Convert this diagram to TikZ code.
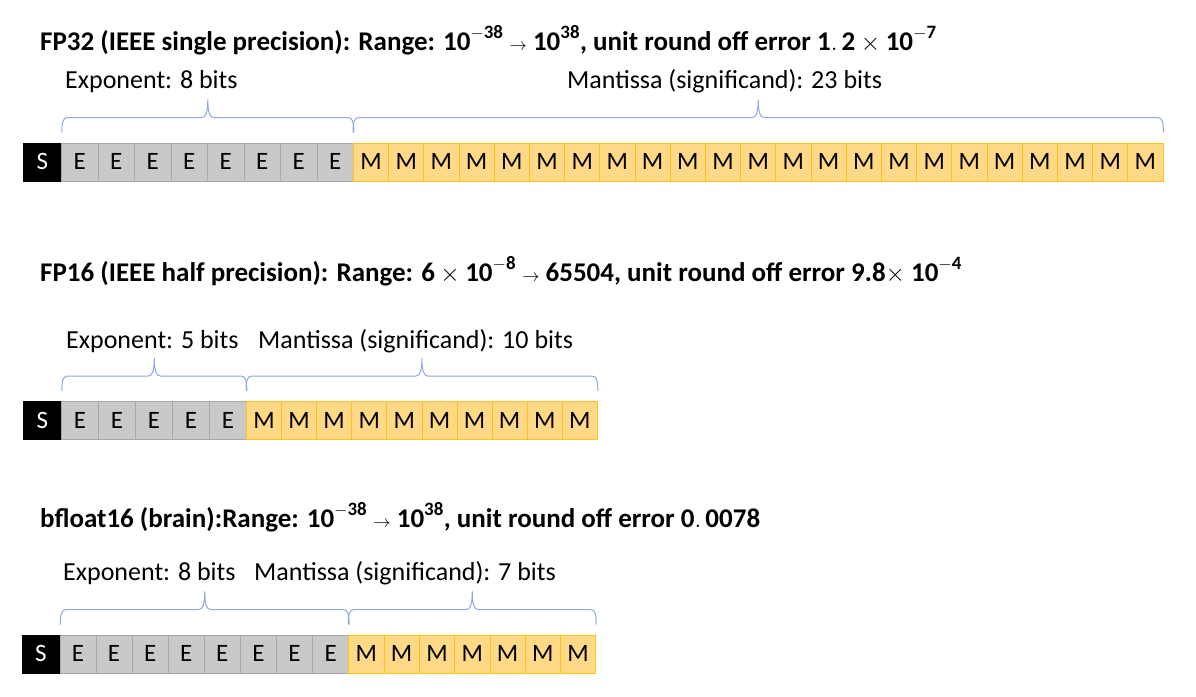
\documentclass[tikz,border=0pt]{standalone}
\usepackage{fontspec}
\setmainfont{Carlito}
\usetikzlibrary{calc}
\definecolor{egray}{HTML}{C9C9C9}
\definecolor{eborder}{HTML}{A8A8A8}
\definecolor{mgold}{HTML}{FFD986}
\definecolor{mborder}{HTML}{FFC21A}
\definecolor{braceblue}{HTML}{8EA9DB}
\newcommand\bitrow[7]{%
  \node[sbit] (#1s) at (#2,#3) {S};
  \foreach \i in {1,...,#4}
    \node[ebit, minimum width=#5pt] (#1e\i) at ({#2+38+(\i-1)*#5},#3) {E};
  \foreach \j in {1,...,#6}
    \node[mbit, minimum width=#7pt] (#1m\j) at ({#2+38+#4*#5+(\j-1)*#7},#3) {M};
}
\newcommand\pptbrace[2]{%
  \draw[bracestyle] let \p1=(#1), \p2=(#2), \p3=($(#1)!0.5!(#2)$) in
    (\x1,\y1+10pt)
    .. controls (\x1,\y1+20pt) and (\x1+1pt,\y1+25pt) .. (\x1+6pt,\y1+25pt)
    -- (\x3-6pt,\y1+25pt)
    .. controls (\x3-2pt,\y1+25pt) and (\x3,\y1+30pt) .. (\x3,\y1+43pt)
    .. controls (\x3,\y1+30pt) and (\x3+2pt,\y1+25pt) .. (\x3+6pt,\y1+25pt)
    -- (\x2-6pt,\y1+25pt)
    .. controls (\x2-1pt,\y1+25pt) and (\x2,\y1+20pt) .. (\x2,\y1+10pt);
}
\newcommand\bm[1]{\mathbf{#1}}
\newcommand\mth[1]{{\fontsize{27}{30}\selectfont$#1$}}
\newcommand\arr{{\fontsize{19}{20}\selectfont$\rightarrow$}}
\newcommand\titleA{FP32 (IEEE single precision): Range: \mth{\bm{10}^{\bm{-38}}} \arr{} \mth{\bm{10}^{\bm{38}}}, unit round off error \mth{\bm{1.\,2}\times\bm{10}^{\bm{-7}}}}
\newcommand\titleB{FP16 (IEEE half precision): Range: \mth{\bm{6}\times\bm{10}^{\bm{-8}}} \arr{} \mth{\bm{65504}}, unit round off error 9.8\mth{\times} \mth{\bm{10}^{\bm{-4}}}}
\newcommand\titleC{bfloat16 (brain):Range: \mth{\bm{10}^{\bm{-38}}} \arr{} \mth{\bm{10}^{\bm{38}}}, unit round off error \mth{\bm{0.\,0078}}}
\begin{document}
\begin{tikzpicture}[x=1pt,y=-1pt,
  cell/.style={draw, line width=0.8pt, minimum height=38pt, inner sep=0pt,
    anchor=north west, font=\fontsize{25}{28}\selectfont},
  sbit/.style={cell, fill=black, draw=black, text=white, minimum width=38pt},
  ebit/.style={cell, fill=egray, draw=eborder},
  mbit/.style={cell, fill=mgold, draw=mborder},
  bracestyle/.style={draw=braceblue, line width=1pt},
  titletext/.style={anchor=base west, inner sep=0pt, font=\fontsize{27}{30}\selectfont\bfseries},
  labtext/.style={anchor=base west, inner sep=0pt, font=\fontsize{26}{30}\selectfont},
]
\fill[white] (0,0) rectangle (1196,696);
\path[use as bounding box] (0,0) rectangle (1196,696);

% ---------- FP32 ----------
\node[titletext] (t1) at (40,50) {\titleA};
\node[labtext] (l1e) at (65,88) {Exponent: 8 bits};
\node[labtext] (l1m) at (567,88) {Mantissa (significand): 23 bits};
\bitrow{a}{23}{142.5}{8}{36.5}{23}{35.2}
\pptbrace{as.north east}{ae8.north east}
\pptbrace{am1.north west}{am23.north east}

% ---------- FP16 ----------
\node[titletext] (t2) at (40,281) {\titleB};
\node[labtext] (l2e) at (66,348) {Exponent: 5 bits};
\node[labtext] (l2m) at (258,348) {Mantissa (significand): 10 bits};
\bitrow{b}{23}{401}{5}{37}{10}{35.1}
\pptbrace{bs.north east}{be5.north east}
\pptbrace{bm1.north west}{bm10.north east}

% ---------- bfloat16 ----------
\node[titletext] (t3) at (40,527) {\titleC};
\node[labtext] (l3e) at (63,580) {Exponent: 8 bits};
\node[labtext] (l3m) at (254,580) {Mantissa (significand): 7 bits};
\bitrow{c}{21.5}{634.5}{8}{36.1}{7}{35.3}
\pptbrace{cs.north east}{ce8.north east}
\pptbrace{cm1.north west}{cm7.north east}
\end{tikzpicture}
\end{document}
